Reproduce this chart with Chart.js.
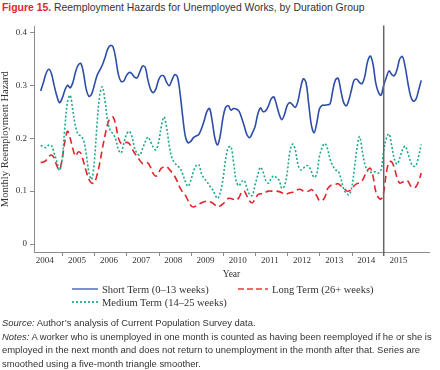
<!DOCTYPE html>
<html>
<head>
<meta charset="utf-8">
<script src="https://cdn.jsdelivr.net/npm/chart.js@4"></script>
<style>
  body { margin: 0; width: 440px; height: 370px; background: #fff; position: relative; overflow: hidden; }
  .title { position: absolute; left: 2px; top: 2px; font: 10.4px "Liberation Sans", sans-serif; color: #333; white-space: nowrap; }
  .title b { color: #e0262c; }
  .wrap { position: absolute; left: 0; top: 18px; width: 440px; height: 266px; }
  .leg { position: absolute; height: 12px; display: flex; align-items: center; font: 10.5px "Liberation Serif", serif; color: #333; white-space: nowrap; }
  .leg svg { margin-right: 4px; }
  .notes { position: absolute; left: 2px; top: 316px; font: 9.45px "Liberation Sans", sans-serif; line-height: 13.6px; color: #333; white-space: nowrap; }
</style>
</head>
<body>
<div class="title"><b>Figure 15.</b> Reemployment Hazards for Unemployed Works, by Duration Group</div>
<div class="wrap"><canvas id="grafico"></canvas></div>

<div class="leg" style="left:72px; top:283px">
  <svg width="26" height="4"><line x1="0" y1="2" x2="26" y2="2" stroke="#7f8fd2" stroke-width="2"/></svg>Short Term (0–13 weeks)
</div>
<div class="leg" style="left:238px; top:283px">
  <svg width="30" height="4"><line x1="0" y1="2" x2="30" y2="2" stroke="#f06a6a" stroke-width="2" stroke-dasharray="6 3"/></svg>Long Term (26+ weeks)
</div>
<div class="leg" style="left:72px; top:296px">
  <svg width="26" height="4"><line x1="0" y1="2" x2="26" y2="2" stroke="#3bb59b" stroke-width="2" stroke-dasharray="2 2"/></svg>Medium Term (14–25 weeks)
</div>

<div class="notes">
  <i>Source:</i> Author’s analysis of Current Population Survey data.<br>
  <i>Notes:</i> A worker who is unemployed in one month is counted as having been reemployed if he or she is<br>
  employed in the next month and does not return to unemployment in the month after that. Series are<br>
  smoothed using a five-month triangle smoother.
</div>

<script>
// months counted from Jan 2004 = 0; series start May 2004
const firstMonth = 4
const years = [2004, 2005, 2006, 2007, 2008, 2009, 2010, 2011, 2012, 2013, 2014, 2015]
const yTicks = [0, 0.1, 0.2, 0.3, 0.4]
const dividerYear = 2015

const shortTerm = [
    0.289, 0.305, 0.322, 0.330, 0.322, 0.300, 0.280, 0.267, 0.275, 0.290,
    0.300, 0.295, 0.305, 0.325, 0.338, 0.341, 0.322, 0.292, 0.279, 0.283,
    0.300, 0.318, 0.328, 0.338, 0.352, 0.368, 0.375, 0.372, 0.350, 0.320,
    0.307, 0.308, 0.318, 0.324, 0.322, 0.315, 0.314, 0.325, 0.336, 0.334,
    0.310, 0.292, 0.286, 0.293, 0.310, 0.318, 0.317, 0.305, 0.299, 0.310,
    0.320, 0.316, 0.285, 0.240, 0.203, 0.191, 0.194, 0.201, 0.204, 0.207,
    0.218, 0.233, 0.250, 0.256, 0.232, 0.200, 0.187, 0.205, 0.238, 0.258,
    0.261, 0.253, 0.256, 0.255, 0.251, 0.238, 0.222, 0.206, 0.201, 0.210,
    0.222, 0.245, 0.257, 0.250, 0.252, 0.261, 0.274, 0.278, 0.263, 0.245,
    0.235, 0.245, 0.262, 0.267, 0.263, 0.258, 0.270, 0.295, 0.312, 0.305,
    0.265, 0.225, 0.210, 0.228, 0.255, 0.262, 0.262, 0.263, 0.265, 0.290,
    0.310, 0.313, 0.290, 0.268, 0.261, 0.272, 0.292, 0.310, 0.311, 0.305,
    0.303, 0.318, 0.345, 0.355, 0.340, 0.305, 0.287, 0.281, 0.300, 0.315,
    0.327, 0.320, 0.318, 0.330, 0.350, 0.354, 0.335, 0.305, 0.280, 0.270,
    0.273, 0.290, 0.309
]

const mediumTerm = [
    0.186, 0.184, 0.182, 0.187, 0.186, 0.172, 0.156, 0.139, 0.160, 0.220,
    0.268, 0.281, 0.252, 0.222, 0.207, 0.204, 0.196, 0.170, 0.135, 0.122,
    0.155, 0.225, 0.280, 0.297, 0.270, 0.232, 0.214, 0.208, 0.198, 0.178,
    0.172, 0.190, 0.207, 0.213, 0.204, 0.182, 0.171, 0.168, 0.180, 0.193,
    0.202, 0.193, 0.183, 0.178, 0.192, 0.222, 0.240, 0.220, 0.185, 0.162,
    0.153, 0.148, 0.143, 0.132, 0.118, 0.109, 0.120, 0.137, 0.148, 0.150,
    0.133, 0.124, 0.118, 0.110, 0.104, 0.094, 0.086, 0.097, 0.122, 0.160,
    0.182, 0.184, 0.153, 0.118, 0.110, 0.118, 0.120, 0.105, 0.093, 0.092,
    0.112, 0.130, 0.145, 0.136, 0.120, 0.115, 0.124, 0.129, 0.125, 0.120,
    0.105, 0.110, 0.135, 0.175, 0.189, 0.178, 0.150, 0.140, 0.143, 0.148,
    0.147, 0.137, 0.126, 0.132, 0.165, 0.182, 0.190, 0.180, 0.160, 0.148,
    0.140, 0.138, 0.124, 0.105, 0.096, 0.093, 0.105, 0.140, 0.180, 0.203,
    0.176, 0.150, 0.138, 0.135, 0.137, 0.136, 0.134, 0.140, 0.175, 0.200,
    0.208, 0.185, 0.160, 0.151, 0.163, 0.178, 0.185, 0.172, 0.156, 0.147,
    0.148, 0.165, 0.188
]

const longTerm = [
    0.154, 0.155, 0.158, 0.165, 0.168, 0.163, 0.148, 0.140, 0.160, 0.193,
    0.213, 0.200, 0.180, 0.166, 0.174, 0.171, 0.155, 0.137, 0.122, 0.115,
    0.116, 0.130, 0.152, 0.180, 0.205, 0.227, 0.238, 0.240, 0.225, 0.200,
    0.190, 0.190, 0.192, 0.190, 0.181, 0.172, 0.165, 0.158, 0.152, 0.152,
    0.153, 0.145, 0.133, 0.128, 0.135, 0.143, 0.146, 0.146, 0.141, 0.135,
    0.128, 0.118, 0.106, 0.098, 0.092, 0.082, 0.073, 0.070, 0.072, 0.075,
    0.078, 0.080, 0.081, 0.080, 0.078, 0.074, 0.070, 0.072, 0.076, 0.081,
    0.086, 0.086, 0.084, 0.083, 0.088, 0.098, 0.100, 0.090, 0.081, 0.078,
    0.085, 0.093, 0.095, 0.095, 0.098, 0.100, 0.100, 0.100, 0.100, 0.099,
    0.097, 0.094, 0.095, 0.097, 0.098, 0.100, 0.103, 0.103, 0.100, 0.099,
    0.100, 0.103, 0.098, 0.091, 0.082, 0.082, 0.088, 0.104, 0.110, 0.112,
    0.113, 0.114, 0.110, 0.106, 0.101, 0.100, 0.104, 0.110, 0.114, 0.116,
    0.120, 0.130, 0.140, 0.143, 0.128, 0.100, 0.088, 0.085, 0.098, 0.135,
    0.155, 0.155, 0.143, 0.125, 0.115, 0.117, 0.119, 0.119, 0.110, 0.106,
    0.108, 0.118, 0.134
]

const serif = '"Liberation Serif", serif'
const axisGray = '#8a8a8a'

const pontos = vals => vals.map((v, i) => ({ x: firstMonth + i, y: v }))
const mes = ano => (ano - 2004) * 12

// year boundary ticks and the 2015 divider
const marcas = {
    id: 'marcas',
    afterDraw(chart) {
        const { ctx, chartArea, scales: { x } } = chart
        ctx.save()
        ctx.strokeStyle = axisGray
        ctx.lineWidth = 1
        years.slice(1, -1).forEach(ano => {
            const px = Math.round(x.getPixelForValue(mes(ano))) + 0.5
            ctx.beginPath()
            ctx.moveTo(px, chartArea.bottom)
            ctx.lineTo(px, chartArea.bottom + 4)
            ctx.stroke()
        })
        const dx = x.getPixelForValue(mes(dividerYear))
        ctx.strokeStyle = '#666'
        ctx.lineWidth = 1.5
        ctx.beginPath()
        ctx.moveTo(dx, chartArea.top - 1)
        ctx.lineTo(dx, chartArea.bottom + 4)
        ctx.stroke()
        ctx.restore()
    }
}

const linha = (label, vals, color, dash) => ({
    label,
    data: pontos(vals),
    borderColor: color,
    borderWidth: 1.6,
    borderDash: dash,
    pointRadius: 0,
    tension: 0.35,
    fill: false
})

new Chart(document.getElementById('grafico'), {
    type: 'line',
    data: {
        datasets: [
            linha('Medium Term (14–25 weeks)', mediumTerm, '#1fa88b', [2, 2]),
            linha('Long Term (26+ weeks)', longTerm, '#e4242b', [7, 4]),
            linha('Short Term (0–13 weeks)', shortTerm, '#2d4ea8', [])
        ]
    },
    options: {
        responsive: true,
        maintainAspectRatio: false,
        animation: false,
        layout: { padding: { top: 4, right: 11, left: 0, bottom: 0 } },
        plugins: {
            legend: { display: false },
            tooltip: { enabled: false }
        },
        scales: {
            x: {
                type: 'linear',
                min: 1.5,
                max: 148.9,
                grid: { display: false, drawTicks: false },
                border: { display: true, color: axisGray, width: 1 },
                afterBuildTicks: s => { s.ticks = years.map(ano => ({ value: mes(ano) + 5.5 })) },
                afterFit: s => { s.height = 32 },
                ticks: {
                    autoSkip: false,
                    maxRotation: 0,
                    padding: 3,
                    color: '#333',
                    font: { family: serif, size: 9 },
                    callback: (v, i) => String(years[i])
                },
                title: {
                    display: true,
                    text: 'Year',
                    color: '#333',
                    font: { family: serif, size: 9.5 },
                    padding: { top: 0, bottom: 4 }
                }
            },
            y: {
                min: -0.015,
                max: 0.411,
                grid: { drawOnChartArea: false, drawTicks: true, tickLength: 4, color: axisGray },
                border: { display: true, color: axisGray, width: 1 },
                afterBuildTicks: s => { s.ticks = yTicks.map(v => ({ value: v })) },
                afterFit: s => { s.width = 34 },
                ticks: {
                    padding: 3,
                    color: '#333',
                    font: { family: serif, size: 9 },
                    callback: v => v === 0 ? '0' : v.toFixed(1)
                },
                title: {
                    display: true,
                    text: 'Monthly Reemployment Hazard',
                    color: '#333',
                    font: { family: serif, size: 10.5, lineHeight: 1 },
                    padding: 0
                }
            }
        }
    },
    plugins: [marcas]
})
</script>
</body>
</html>
